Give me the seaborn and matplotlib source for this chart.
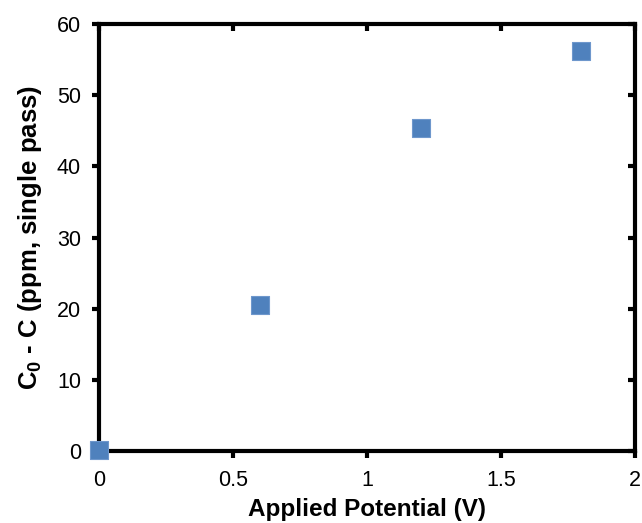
import matplotlib
matplotlib.use("Agg")
import matplotlib.pyplot as plt
import seaborn as sns
import pandas as pd

potential = [0.0, 0.6, 1.2, 1.8]
removal = [0.2, 20.5, 45.4, 56.2]
x_ticks = [0, 0.5, 1, 1.5, 2]
x_tick_labels = ["0", "0.5", "1", "1.5", "2"]
y_ticks = [0, 10, 20, 30, 40, 50, 60]

sns.set_theme(style="white")
plt.rcParams['font.family'] = ['Liberation Sans', 'DejaVu Sans']
plt.rcParams['mathtext.fontset'] = 'custom'
plt.rcParams['mathtext.rm'] = 'Liberation Sans'
plt.rcParams['mathtext.bf'] = 'Liberation Sans:bold'
plt.rcParams['text.color'] = 'black'
plt.rcParams['axes.labelcolor'] = 'black'
plt.rcParams['xtick.color'] = 'black'
plt.rcParams['ytick.color'] = 'black'

df = pd.DataFrame({"V": potential, "C": removal})

fig = plt.figure(figsize=(6.42, 5.23), dpi=100)
ax = fig.add_axes([99/642, 1 - 451/523, (635-99)/642, (451-24)/523])
sns.scatterplot(data=df, x="V", y="C", ax=ax, marker="s", s=150,
                color="#4F81BD", edgecolor="#6E97CC", linewidth=0.8, zorder=5,
                clip_on=False)
ax.set_xlim(0, 2)
ax.set_ylim(0, 60)
ax.set_xticks(x_ticks)
ax.set_xticklabels(x_tick_labels)
ax.set_yticks(y_ticks)
for s in ax.spines.values():
    s.set_linewidth(3)
    s.set_color("black")
ax.tick_params(axis="both", which="major", labelsize=15.5, width=3, length=5,
               color="black", labelcolor="black", direction="out")
ax.tick_params(axis="x", pad=9)
ax.tick_params(axis="y", pad=8)
ax.tick_params(top=True, right=True, bottom=True, left=True)
# secondary (mirrored) ticks point inward
for t in ax.xaxis.get_major_ticks():
    t.tick2line.set_marker(3)  # TICKDOWN
for t in ax.yaxis.get_major_ticks():
    t.tick2line.set_marker(0)  # TICKLEFT
ax.set_xlabel("Applied Potential (V)", fontsize=17.5, fontweight="bold",
              color="black", labelpad=5)
ax.set_ylabel(r"C$_\mathbf{0}$ - C (ppm, single pass)", fontsize=18.5,
              fontweight="bold", color="black", labelpad=9)
fig.savefig("out.png", dpi=100)
